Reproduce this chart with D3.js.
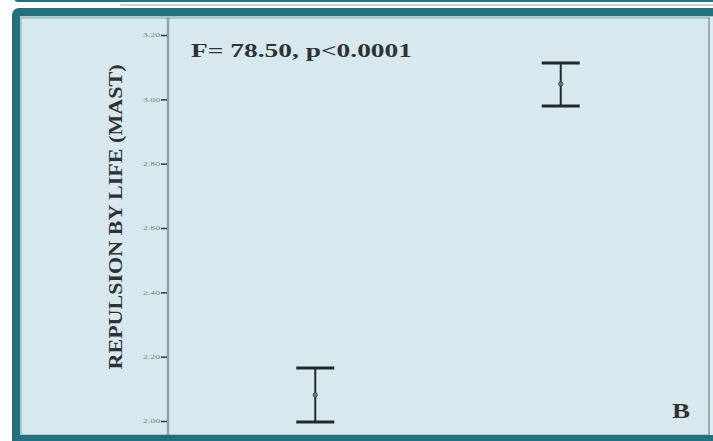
<!DOCTYPE html>
<html>
<head>
<meta charset="utf-8">
<script src="https://cdn.jsdelivr.net/npm/d3@7"></script>
<style>
  html, body { margin: 0; padding: 0; background: #ffffff; }
  svg { display: block; }
</style>
</head>
<body>
<svg id="chart" width="713" height="441"></svg>
<script>
// Group means with error-bar limits (repulsion by life, MAST)
const groups = ["G1", "G2"];
const means = [2.081, 3.048];
const lower = [1.997, 2.979];
const upper = [2.165, 3.113];
const yTicks = [2.00, 2.20, 2.40, 2.60, 2.80, 3.00, 3.20];
const statText = "F= 78.50, p<0.0001";
const panelLabel = "B";
const yTitle = "REPULSION BY LIFE (MAST)";

const svg = d3.select("#chart");
const teal = "#24707f";
const serif = "Liberation Serif, Times New Roman, serif";

// Bottom edge of the panel above
svg.append("rect").attr("x", 14).attr("y", -6).attr("width", 720).attr("height", 8)
  .attr("rx", 4).attr("fill", teal);
svg.append("line").attr("x1", 120).attr("x2", 713).attr("y1", 5).attr("y2", 5)
  .attr("stroke", "#c9d3d6").attr("stroke-width", 2);

// Panel frame
svg.append("rect").attr("x", 12).attr("y", 8).attr("width", 720).attr("height", 445)
  .attr("rx", 7).attr("fill", teal);
svg.append("rect").attr("x", 20).attr("y", 16).attr("width", 700).attr("height", 419)
  .attr("fill", "#a9c9d2");
svg.append("rect").attr("x", 22).attr("y", 19).attr("width", 686).attr("height", 415)
  .attr("fill", "#d7e8ee");
svg.append("line").attr("x1", 709).attr("x2", 709).attr("y1", 17).attr("y2", 435)
  .attr("stroke", "#8fa3aa").attr("stroke-width", 1.5);
svg.append("rect").attr("x", 710).attr("y", 17).attr("width", 5).attr("height", 418)
  .attr("fill", "#dcebf0");

// Scales
const y = d3.scaleLinear().domain([2.0, 3.2]).range([421, 35]);
const x = d3.scalePoint().domain(groups).range([168, 708]).padding(0.6);

// Y axis
svg.append("line").attr("x1", 168).attr("x2", 168).attr("y1", 17).attr("y2", 435)
  .attr("stroke", "#90a4ab").attr("stroke-width", 2.5);
const yAxis = svg.append("g").attr("transform", "translate(167,0)")
  .call(d3.axisLeft(y).tickValues(yTicks).tickSize(6).tickSizeOuter(0).tickFormat(d3.format(".2f")));
yAxis.select(".domain").remove();
yAxis.selectAll(".tick line").attr("stroke", "#333a3c").attr("stroke-width", 1.5);
yAxis.selectAll(".tick text")
  .attr("font-family", serif).attr("font-size", 6)
  .attr("textLength", 17).attr("lengthAdjust", "spacingAndGlyphs")
  .attr("fill", "#7a8487").attr("x", -7);

// Y axis title
svg.append("text")
  .attr("transform", `translate(122,217) rotate(-90)`)
  .attr("text-anchor", "middle")
  .attr("font-family", serif).attr("font-weight", "bold")
  .attr("font-size", 19).attr("fill", "#2e3436")
  .attr("textLength", 305).attr("lengthAdjust", "spacingAndGlyphs")
  .text(yTitle);

// Statistic annotation
svg.append("text").attr("x", 191).attr("y", 57)
  .attr("font-family", serif).attr("font-weight", "bold")
  .attr("font-size", 19).attr("fill", "#2e3436")
  .attr("textLength", 221).attr("lengthAdjust", "spacingAndGlyphs")
  .text(statText);

// Panel letter
svg.append("text").attr("x", 672).attr("y", 418)
  .attr("font-family", serif).attr("font-weight", "bold")
  .attr("font-size", 20).attr("fill", "#2e3436")
  .attr("textLength", 18).attr("lengthAdjust", "spacingAndGlyphs")
  .text(panelLabel);

// Error bars
const capHalf = 19;
const bars = svg.append("g").attr("stroke", "#1f2a2d");
groups.forEach((g, i) => {
  const cx = x(g);
  bars.append("line").attr("x1", cx).attr("x2", cx)
    .attr("y1", y(upper[i])).attr("y2", y(lower[i])).attr("stroke-width", 2);
  bars.append("line").attr("x1", cx - capHalf).attr("x2", cx + capHalf)
    .attr("y1", y(upper[i])).attr("y2", y(upper[i])).attr("stroke-width", 3);
  bars.append("line").attr("x1", cx - capHalf).attr("x2", cx + capHalf)
    .attr("y1", y(lower[i])).attr("y2", y(lower[i])).attr("stroke-width", 3);
  svg.append("circle").attr("cx", cx).attr("cy", y(means[i])).attr("r", 2.2)
    .attr("fill", "#6a7a7e").attr("stroke", "#3a4649").attr("stroke-width", 0.8);
});
</script>
</body>
</html>
